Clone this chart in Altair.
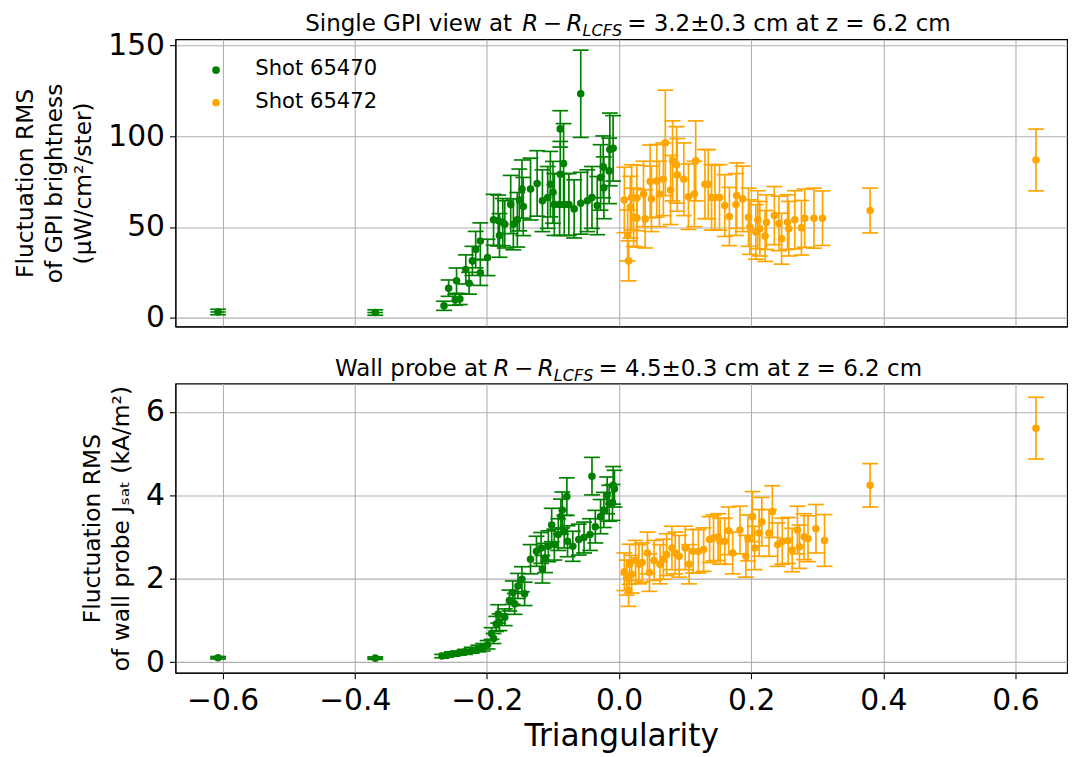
import altair as alt
import pandas as pd

GREEN = "#008000"
ORANGE = "#FFA500"
FONT = "DejaVu Sans"

shots = ["Shot 65470", "Shot 65472"]

# ---------------- Top panel: GPI brightness fluctuation RMS ----------------
gpi_x_65470 = [-0.607, -0.369, -0.265, -0.258, -0.248, -0.241, -0.246, -0.232, -0.227, -0.222,
               -0.217, -0.210, -0.210, -0.199, -0.190, -0.183, -0.181, -0.176, -0.173, -0.164,
               -0.160, -0.154, -0.151, -0.147, -0.145, -0.134, -0.124, -0.116, -0.108, -0.104,
               -0.100, -0.098, -0.090, -0.089, -0.089, -0.084, -0.083, -0.076, -0.068, -0.058,
               -0.058, -0.048, -0.041, -0.033, -0.028, -0.024, -0.023, -0.015, -0.014, -0.009]
gpi_y_65470 = [3.3, 3.0, 6.7, 16.4, 10.0, 10.4, 20.5, 26.7, 19.1, 31.4,
               37.6, 42.3, 24.9, 33.3, 54.0, 53.6, 45.4, 52.7, 51.5, 62.4,
               51.5, 54.0, 64.9, 70.9, 61.3, 70.9, 74.0, 64.5, 66.3, 73.6,
               69.1, 62.4, 62.4, 79.1, 104.0, 84.9, 62.4, 62.4, 60.0, 123.3,
               63.1, 64.5, 66.3, 61.8, 77.3, 83.1, 71.6, 80.9, 92.7, 93.3]
gpi_e_65470 = [1.5, 1.5, 2.5, 4.5, 3.0, 3.0, 7.0, 8.0, 6.0, 8.0,
               10.0, 10.0, 7.0, 10.0, 14.0, 14.0, 12.0, 13.0, 13.0, 16.0,
               14.0, 15.0, 17.0, 16.0, 16.0, 17.0, 18.0, 17.0, 17.0, 18.0,
               17.0, 17.0, 17.0, 18.0, 10.0, 22.0, 17.0, 17.0, 16.0, 24.0,
               17.0, 17.0, 17.0, 16.0, 18.0, 17.0, 17.0, 18.0, 20.0, 18.0]

gpi_x_65472 = [0.008, 0.0145, 0.013, 0.017, 0.019, 0.022, 0.027, 0.027, 0.037, 0.0395,
               0.047, 0.049, 0.057, 0.061, 0.067, 0.070, 0.078, 0.081, 0.087, 0.088,
               0.098, 0.105, 0.114, 0.116, 0.130, 0.135, 0.140, 0.145, 0.152, 0.160,
               0.167, 0.177, 0.178, 0.187, 0.196, 0.198, 0.207, 0.210, 0.213, 0.221,
               0.223, 0.235, 0.242, 0.246, 0.255, 0.257, 0.266, 0.276, 0.281, 0.295,
               0.308, 0.380, 0.631]
gpi_y_65472 = [64.9, 31.4, 45.4, 60.9, 66.3, 55.4, 55.0, 66.0, 68.2, 54.5,
               75.1, 65.5, 75.4, 68.2, 76.3, 96.3, 70.4, 86.4, 84.2, 78.7,
               76.3, 66.7, 68.2, 86.4, 73.6, 73.6, 66.3, 66.3, 66.3, 61.8,
               55.8, 62.4, 67.3, 65.5, 55.4, 50.0, 47.3, 54.0, 49.1, 45.1,
               52.7, 56.3, 52.0, 43.6, 52.7, 49.1, 54.0, 49.6, 54.9, 54.9,
               54.9, 59.1, 86.9]
gpi_e_65472 = [18.0, 11.0, 14.0, 17.0, 18.0, 16.0, 16.0, 18.0, 18.0, 16.0,
               20.0, 18.0, 20.0, 18.0, 20.0, 29.0, 19.0, 22.0, 21.0, 20.0,
               20.0, 18.0, 18.0, 22.0, 19.0, 19.0, 18.0, 18.0, 18.0, 17.0,
               16.0, 17.0, 18.0, 18.0, 16.0, 15.0, 15.0, 16.0, 15.0, 14.0,
               15.0, 16.0, 15.0, 14.0, 15.0, 15.0, 16.0, 15.0, 16.0, 16.5,
               15.0, 12.3, 17.0]

# ---------------- Bottom panel: wall probe Jsat fluctuation RMS ----------------
jsat_x_65470 = [-0.607, -0.369, -0.268, -0.261, -0.253, -0.243, -0.233, -0.223, -0.213, -0.206,
                -0.199, -0.193, -0.190, -0.186, -0.183, -0.181, -0.173, -0.166, -0.161, -0.158,
                -0.153, -0.147, -0.143, -0.134, -0.125, -0.118, -0.116, -0.112, -0.107, -0.102,
                -0.098, -0.092, -0.088, -0.086, -0.083, -0.079, -0.078, -0.070, -0.061, -0.053,
                -0.044, -0.041, -0.036, -0.028, -0.023, -0.018, -0.015, -0.010, -0.009, -0.007]
jsat_y_65470 = [0.11, 0.10, 0.15, 0.17, 0.20, 0.22, 0.25, 0.29, 0.33, 0.36,
                0.42, 0.69, 0.57, 0.92, 1.16, 0.96, 1.08, 1.48, 1.67, 1.40,
                1.83, 1.99, 1.64, 2.47, 2.66, 2.74, 2.23, 2.50, 2.78, 3.29,
                2.82, 3.06, 3.49, 3.65, 3.13, 3.97, 2.90, 2.78, 2.94, 2.99,
                3.06, 4.46, 3.25, 3.49, 3.65, 4.00, 3.81, 3.83, 4.24, 4.16]
jsat_e_65470 = [0.03, 0.03, 0.04, 0.04, 0.05, 0.05, 0.06, 0.07, 0.08, 0.09,
                0.10, 0.14, 0.12, 0.18, 0.22, 0.20, 0.20, 0.25, 0.28, 0.25,
                0.30, 0.30, 0.28, 0.35, 0.36, 0.37, 0.33, 0.35, 0.37, 0.40,
                0.37, 0.38, 0.42, 0.43, 0.39, 0.45, 0.37, 0.36, 0.37, 0.37,
                0.38, 0.45, 0.39, 0.41, 0.42, 0.44, 0.43, 0.43, 0.45, 0.44]

jsat_x_65472 = [0.008, 0.0115, 0.0145, 0.016, 0.019, 0.025, 0.030, 0.035, 0.043, 0.046,
                0.053, 0.062, 0.067, 0.072, 0.080, 0.085, 0.091, 0.100, 0.106, 0.112,
                0.120, 0.128, 0.137, 0.143, 0.150, 0.153, 0.160, 0.166, 0.172, 0.183,
                0.192, 0.195, 0.202, 0.205, 0.212, 0.216, 0.227, 0.232, 0.240, 0.247,
                0.256, 0.262, 0.270, 0.273, 0.280, 0.286, 0.298, 0.311, 0.380, 0.631]
jsat_y_65472 = [2.17, 2.03, 1.72, 2.35, 2.11, 2.44, 2.35, 2.39, 2.62, 2.15,
                2.44, 2.35, 2.47, 2.58, 2.74, 2.62, 2.54, 2.74, 2.35, 2.66,
                2.66, 2.70, 2.94, 2.98, 3.00, 2.90, 2.90, 3.15, 2.62, 3.17,
                2.54, 2.98, 3.49, 2.74, 3.10, 3.37, 3.10, 3.61, 2.82, 2.90,
                2.92, 2.69, 3.17, 2.77, 3.01, 2.96, 3.20, 2.92, 4.24, 5.61]
jsat_e_65472 = [0.45, 0.42, 0.38, 0.48, 0.45, 0.48, 0.47, 0.47, 0.50, 0.45,
                0.48, 0.47, 0.48, 0.50, 0.52, 0.50, 0.50, 0.52, 0.47, 0.52,
                0.52, 0.52, 0.55, 0.55, 0.56, 0.55, 0.55, 0.57, 0.50, 0.57,
                0.50, 0.55, 0.60, 0.52, 0.56, 0.58, 0.56, 0.62, 0.52, 0.55,
                0.55, 0.52, 0.57, 0.52, 0.55, 0.55, 0.58, 0.62, 0.52, 0.74]

# horizontal (triangularity) error bars on the two isolated low-delta points
xerr_x = [-0.607, -0.369]
xerr_e = [0.0115, 0.012]
xerr_gpi_y = [3.3, 3.0]
xerr_jsat_y = [0.11, 0.10]

x_ticks = [-0.6, -0.4, -0.2, 0.0, 0.2, 0.4, 0.6]
gpi_ticks = [0, 50, 100, 150]
jsat_ticks = [0, 2, 4, 6]

top_title = ["Single GPI view at", "R\u2009−\u2009R", "LCFS", "= 3.2±0.3 cm at z = 6.2 cm"]
bot_title = ["Wall probe at", "R\u2009−\u2009R", "LCFS", "= 4.5±0.3 cm at z = 6.2 cm"]

W = 900
X_DOMAIN = [-0.6715, 0.678]
TITLE_SIZE = 23.2


def frame(x, y, e):
    return pd.DataFrame({"x": x, "y": y,
                         "lo": [a - b for a, b in zip(y, e)],
                         "hi": [a + b for a, b in zip(y, e)]})


def panel(series, ydomain, yticks, ytitle, xaxis, xerr_df, title_parts, title_pos, legend, height):
    xs = alt.Scale(domain=X_DOMAIN, nice=False, zero=False)
    ys = alt.Scale(domain=ydomain, nice=False, zero=False)
    yaxis = alt.Axis(values=yticks, title=ytitle, labelFontSize=30, titleFontSize=23.6,
                     titleLineHeight=29.5, titlePadding=12, tickSize=6, labelPadding=5)
    layers = []
    for i, (df, col) in enumerate(series):
        base = alt.Chart(df)
        X = alt.X("x:Q", scale=xs, axis=xaxis) if i == 0 else alt.X("x:Q", scale=xs)
        Y = alt.Y("y:Q", scale=ys, axis=yaxis) if i == 0 else alt.Y("y:Q", scale=ys)
        stem = base.mark_rule(color=col, strokeWidth=1.7).encode(
            x=X, y=alt.Y("lo:Q", scale=ys), y2="hi:Q")
        cap_lo = base.mark_tick(color=col, orient="horizontal", size=16, thickness=1.7, opacity=1).encode(
            x=alt.X("x:Q", scale=xs), y=alt.Y("lo:Q", scale=ys))
        cap_hi = base.mark_tick(color=col, orient="horizontal", size=16, thickness=1.7, opacity=1).encode(
            x=alt.X("x:Q", scale=xs), y=alt.Y("hi:Q", scale=ys))
        layers += [stem, cap_lo, cap_hi]
        if i == 0:
            xe = alt.Chart(xerr_df).mark_rule(color=col, strokeWidth=1.7).encode(
                x=alt.X("xlo:Q", scale=xs), x2="xhi:Q", y=alt.Y("y:Q", scale=ys))
            layers.append(xe)
        dots = base.mark_circle(color=col, size=58, opacity=1).encode(x=X, y=Y)
        layers.append(dots)

    one = pd.DataFrame({"k": [0]})
    styles = [dict(), dict(fontStyle="italic"), dict(fontStyle="italic", fontSize=16.2), dict()]
    ys_pos = [-8, -8, -3, -8]
    for txt, xp, yp, st in zip(title_parts, title_pos, ys_pos, styles):
        kw = dict(align="left", baseline="alphabetic", font=FONT, fontSize=TITLE_SIZE, color="black")
        kw.update(st)
        layers.append(alt.Chart(one).mark_text(**kw).encode(
            x=alt.value(xp), y=alt.value(yp), text=alt.value(txt)))

    if legend:
        for (name, col), yp in zip(legend, [31.2, 64.2]):
            layers.append(alt.Chart(one).mark_circle(color=col, size=58, opacity=1).encode(
                x=alt.value(41), y=alt.value(yp)))
            layers.append(alt.Chart(one).mark_text(align="left", baseline="middle", font=FONT,
                                                   fontSize=21.3, color="black").encode(
                x=alt.value(80.7), y=alt.value(yp - 1), text=alt.value(name)))

    return alt.layer(*layers).properties(width=W, height=height)


top_xaxis = alt.Axis(values=x_ticks, labels=False, ticks=False, title=None)
bot_xaxis = alt.Axis(values=x_ticks, format=".1f", labelFontSize=30, title="Triangularity",
                     titleFontSize=31.5, tickSize=6, labelPadding=7, titlePadding=5)

top = panel(
    [(frame(gpi_x_65470, gpi_y_65470, gpi_e_65470), GREEN),
     (frame(gpi_x_65472, gpi_y_65472, gpi_e_65472), ORANGE)],
    [-4.7, 153.3], gpi_ticks,
    ["Fluctuation RMS", "of GPI brightness", "(μW/cm²/ster)"],
    top_xaxis,
    pd.DataFrame({"xlo": [a - b for a, b in zip(xerr_x, xerr_e)],
                  "xhi": [a + b for a, b in zip(xerr_x, xerr_e)], "y": xerr_gpi_y}),
    top_title, [131, 350, 411, 456],
    list(zip(shots, [GREEN, ORANGE])), 290)

bottom = panel(
    [(frame(jsat_x_65470, jsat_y_65470, jsat_e_65470), GREEN),
     (frame(jsat_x_65472, jsat_y_65472, jsat_e_65472), ORANGE)],
    [-0.25, 6.68], jsat_ticks,
    ["Fluctuation RMS", "of wall probe Jₛₐₜ (kA/m²)"],
    bot_xaxis,
    pd.DataFrame({"xlo": [a - b for a, b in zip(xerr_x, xerr_e)],
                  "xhi": [a + b for a, b in zip(xerr_x, xerr_e)], "y": xerr_jsat_y}),
    bot_title, [161, 321, 382, 427],
    None, 292)

chart = alt.vconcat(top, bottom, spacing=22.5).properties(
    padding={"left": 5, "top": 0, "right": 0, "bottom": 0}
).configure_view(
    stroke="black", strokeWidth=1.1
).configure_axis(
    grid=True, gridColor="#b0b0b0", gridWidth=1.1,
    domainColor="black", domainWidth=1.1, tickColor="black", tickWidth=1.1,
    labelColor="black", titleColor="black", labelFont=FONT, titleFont=FONT,
    titleFontWeight="normal"
)

chart.save("out.html", embed_options={"renderer": "svg", "actions": False})
